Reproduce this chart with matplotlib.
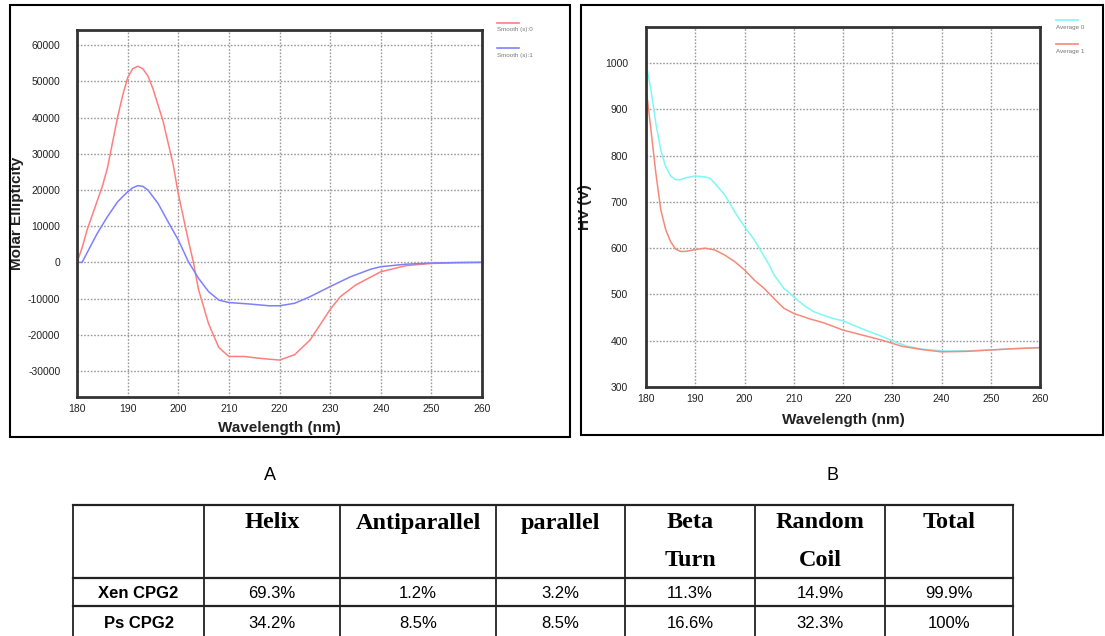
import numpy as np
from matplotlib import pyplot as plt
from matplotlib.lines import Line2D
from matplotlib.patches import Rectangle

# CD spectrum (panel A)
wl_a = [180, 181, 182, 184, 185, 186, 188, 189, 190, 191, 192, 193, 194, 195, 197,
        199, 200, 202, 203, 204, 206, 208, 210, 213, 216, 220, 223, 226, 228, 230,
        232, 235, 240, 245, 250, 255, 260]
smooth0 = [0, 4000, 9000, 17000, 21000, 26000, 40000, 46000, 51000, 53500, 54200,
           53500, 51500, 48000, 39000, 27000, 19000, 6000, 0, -7500, -17000, -23500,
           -26000, -26000, -26500, -27000, -25500, -21500, -17300, -13000, -9500,
           -6300, -2600, -900, -300, -100, 0]

wl_b = [180, 181, 184, 186, 188, 190, 191, 192, 193, 194, 196, 198, 200, 202, 204,
        206, 208, 210, 214, 218, 220, 223, 226, 230, 234, 238, 240, 245, 250, 255, 260]
smooth1 = [0, 0, 8000, 12600, 16700, 19500, 20600, 21200, 21000, 20000, 16300, 11200,
           6200, 200, -4400, -8100, -10400, -11100, -11500, -12000, -12000, -11300,
           -9500, -6700, -4000, -1900, -1200, -500, -200, -50, 0]

# HV trace (panel B)
wl_c = [180, 181, 182, 183, 184, 185, 186, 187, 188, 190, 192, 193, 194, 196, 198,
        200, 202, 203, 205, 206, 208, 210, 212, 214, 216, 218, 220, 222, 225, 228,
        230, 233, 236, 240, 245, 250, 255, 260]
average0 = [1000, 942, 870, 812, 776, 756, 748, 748, 752, 756, 754, 751, 740, 715,
            679, 646, 618, 600, 564, 542, 513, 495, 477, 463, 455, 448, 443, 434,
            421, 409, 400, 388, 382, 378, 378, 380, 383, 385]

wl_d = [180, 181, 182, 183, 184, 185, 186, 187, 188, 190, 192, 194, 196, 198, 200,
        202, 204, 206, 208, 210, 213, 216, 220, 224, 228, 232, 236, 240, 245, 250,
        255, 260]
average1 = [948, 856, 762, 683, 640, 614, 598, 593, 593, 597, 600, 596, 585, 571,
            553, 531, 513, 491, 470, 459, 448, 439, 423, 412, 401, 388, 381, 376,
            377, 380, 383, 385]

# secondary structure table
col_headers = [['', ''], ['Helix', ''], ['Antiparallel', ''], ['parallel', ''],
               ['Beta', 'Turn'], ['Random', 'Coil'], ['Total', '']]
row_names = ['Xen CPG2', 'Ps CPG2']
xen_vals = ['69.3%', '1.2%', '3.2%', '11.3%', '14.9%', '99.9%']
ps_vals = ['34.2%', '8.5%', '8.5%', '16.6%', '32.3%', '100%']

W, H = 1105, 636


def px(x0, y0, x1, y1):
    # pixel box (top-left origin) -> figure rect
    return [x0 / W, 1 - y1 / H, (x1 - x0) / W, (y1 - y0) / H]


def style_axes(ax, xlim, ylim, xticks, yticks, ypad):
    ax.set_xlim(*xlim)
    ax.set_ylim(*ylim)
    ax.set_xticks(xticks)
    ax.set_yticks(yticks)
    ax.grid(True, color='#9a9a9a', linestyle=(0, (1.2, 1.2)), linewidth=1.0)
    ax.tick_params(length=0, labelsize=7.5, colors='#222222')
    ax.tick_params(axis='y', pad=ypad)
    ax.tick_params(axis='x', pad=5)
    for s in ax.spines.values():
        s.set_color('#333333')
        s.set_linewidth(2.0)


def legend_entry(fig, x, y, color, text):
    fig.add_artist(Line2D([x / W, (x + 22) / W], [1 - y / H, 1 - y / H],
                          color=color, lw=1.2, transform=fig.transFigure))
    fig.text(x / W, 1 - (y + 7) / H, text, fontsize=4.5, color='#777777',
             va='center', ha='left')


if __name__ == '__main__':
    plt.rcParams['font.family'] = ['Liberation Sans', 'DejaVu Sans']
    plt.rcParams['axes.unicode_minus'] = False
    fig = plt.figure(figsize=(W / 100, H / 100), dpi=100)

    # frames around the two panels
    for (x0, y0, x1, y1) in [(10, 5, 570, 437), (581, 5, 1103, 435)]:
        fig.add_artist(Rectangle((x0 / W, 1 - y1 / H), (x1 - x0) / W, (y1 - y0) / H,
                                 fill=False, edgecolor='black', lw=1.5,
                                 transform=fig.transFigure))

    ax_a = fig.add_axes(px(77, 30, 482, 397))
    ax_a.plot(wl_a, smooth0, color='#ff7f7f', lw=1.1)
    ax_a.plot(wl_b, smooth1, color='#7f7fff', lw=1.1)
    style_axes(ax_a, (180, 260), (-37200, 64200), np.arange(180, 261, 10),
               np.arange(-30000, 60001, 10000), 12)
    ax_a.set_xlabel('Wavelength (nm)', fontsize=11, fontweight='bold', color='#222222')
    ax_a.set_ylabel('Molar Ellipticity', fontsize=11, fontweight='bold', color='#222222')
    ax_a.xaxis.set_label_coords(0.5, -0.065)
    ax_a.yaxis.set_label_coords(-0.131, 0.5)

    ax_b = fig.add_axes(px(646, 27, 1040, 387))
    ax_b.plot(wl_c, average0, color='#7ff7f7', lw=1.1)
    ax_b.plot(wl_d, average1, color='#f58a7a', lw=1.1)
    style_axes(ax_b, (180, 260), (300, 1078), np.arange(180, 261, 10),
               np.arange(300, 1001, 100), 13)
    ax_b.set_xlabel('Wavelength (nm)', fontsize=11, fontweight='bold', color='#222222')
    ax_b.set_ylabel('HV (V)', fontsize=11, fontweight='bold', color='#222222')
    ax_b.xaxis.set_label_coords(0.5, -0.072)
    ax_b.yaxis.set_label_coords(-0.137, 0.5)

    legend_entry(fig, 497, 23, '#ff7f7f', 'Smooth (s):0')
    legend_entry(fig, 497, 48, '#7f7fff', 'Smooth (s):1')
    legend_entry(fig, 1056, 20, '#7ff7f7', 'Average 0')
    legend_entry(fig, 1056, 44, '#f58a7a', 'Average 1')

    fig.text(270 / W, 1 - 475 / H, 'A', fontsize=13, ha='center', va='center')
    fig.text(833 / W, 1 - 475 / H, 'B', fontsize=13, ha='center', va='center')

    # table drawn on a pixel-space overlay
    tab = fig.add_axes([0, 0, 1, 1])
    tab.set_xlim(0, W)
    tab.set_ylim(H, 0)
    tab.axis('off')
    col_x = [73, 204, 340, 496, 625, 755, 885, 1013]
    row_y = [505, 578, 606, 636]
    for x in col_x:
        tab.plot([x, x], [row_y[0], H], color='#222222', lw=1.3)
    for y in row_y[:-1]:
        tab.plot([col_x[0], col_x[-1]], [y, y], color='#222222', lw=1.6)

    for i, (l1, l2) in enumerate(col_headers):
        cx = (col_x[i] + col_x[i + 1]) / 2
        tab.text(cx, 523, l1, fontsize=17.5, fontweight='bold', ha='center', va='center',
                 family=['Liberation Serif', 'DejaVu Serif'])
        tab.text(cx, 561, l2, fontsize=17.5, fontweight='bold', ha='center', va='center',
                 family=['Liberation Serif', 'DejaVu Serif'])

    for r, (name, vals) in enumerate(zip(row_names, [xen_vals, ps_vals])):
        cy = (row_y[r + 1] + row_y[r + 2]) / 2 + 2
        tab.text((col_x[0] + col_x[1]) / 2, cy, name, fontsize=12, fontweight='bold',
                 ha='center', va='center')
        for j, v in enumerate(vals):
            cx = (col_x[j + 1] + col_x[j + 2]) / 2
            tab.text(cx, cy, v, fontsize=12, ha='center', va='center')

    plt.savefig('out.png', dpi=100)
